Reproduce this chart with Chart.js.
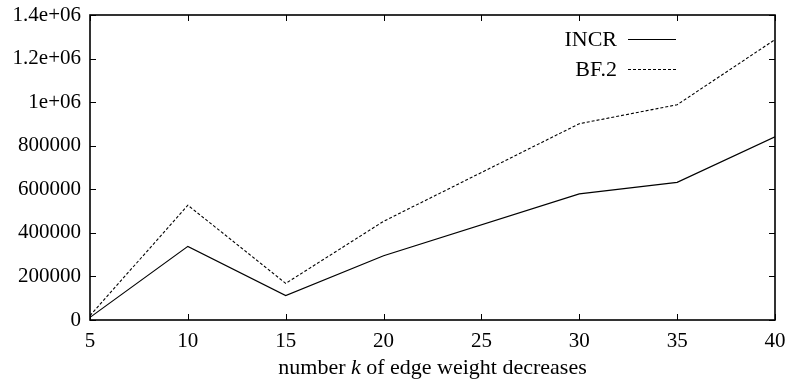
<!DOCTYPE html>
<html>
<head>
<meta charset="utf-8">
<script src="https://cdn.jsdelivr.net/npm/chart.js@4/dist/chart.umd.min.js"></script>
<style>
  html, body { margin: 0; padding: 0; background: #fff; }
  #wrap { width: 786px; height: 382px; position: relative; }
</style>
</head>
<body>
<div id="wrap"><canvas id="c" width="786" height="382"></canvas></div>
<script>
const kValues = [5, 10, 15, 20, 30, 35, 40];
const incrValues = [12000, 338000, 112000, 295000, 579000, 632000, 841000];
const bf2Values = [20000, 527000, 168000, 453000, 901000, 988000, 1287000];
const xTickValues = [5, 10, 15, 20, 25, 30, 35, 40];
const yTickValues = [0, 200000, 400000, 600000, 800000, 1000000, 1200000, 1400000];
const yTickLabels = ['0', '200000', '400000', '600000', '800000', '1e+06', '1.2e+06', '1.4e+06'];
const seriesNames = ['INCR', 'BF.2'];
const xTitleParts = [['number ', false], ['k', true], [' of edge weight decreases', false]];

const FONT = '"Liberation Serif", "Times New Roman", serif';

const gnuplotPlugin = {
  id: 'gnuplotFrame',
  afterDraw(chart) {
    const ctx = chart.ctx;
    const a = chart.chartArea;
    const xs = chart.scales.x, ys = chart.scales.y;
    ctx.save();
    ctx.strokeStyle = '#000';
    ctx.lineWidth = 1;
    const tl = 6;
    xTickValues.forEach(v => {
      const px = Math.round(xs.getPixelForValue(v)) + 0.5;
      ctx.beginPath();
      ctx.moveTo(px, a.bottom); ctx.lineTo(px, a.bottom - tl);
      ctx.moveTo(px, a.top); ctx.lineTo(px, a.top + tl);
      ctx.stroke();
    });
    yTickValues.forEach(v => {
      const py = Math.round(ys.getPixelForValue(v)) + 0.5;
      ctx.beginPath();
      ctx.moveTo(a.left, py); ctx.lineTo(a.left + tl, py);
      ctx.moveTo(a.right, py); ctx.lineTo(a.right - tl, py);
      ctx.stroke();
    });
    ctx.lineWidth = 1.6;
    ctx.strokeRect(a.left, a.top, a.right - a.left, a.bottom - a.top);

    // legend
    ctx.fillStyle = '#000';
    ctx.font = '22px ' + FONT;
    ctx.textAlign = 'right';
    ctx.textBaseline = 'middle';
    const legY = [39, 69];
    chart.data.datasets.forEach((ds, i) => {
      ctx.fillText(seriesNames[i], 617, legY[i] + 1);
      ctx.beginPath();
      ctx.lineWidth = ds.borderWidth;
      ctx.setLineDash(ds.borderDash || []);
      ctx.moveTo(628, legY[i] + 0.5);
      ctx.lineTo(676, legY[i] + 0.5);
      ctx.stroke();
      ctx.setLineDash([]);
    });

    // x title with italic k
    ctx.textAlign = 'left';
    ctx.textBaseline = 'alphabetic';
    let total = 0;
    xTitleParts.forEach(([t, it]) => {
      ctx.font = (it ? 'italic ' : '') + '22px ' + FONT;
      total += ctx.measureText(t).width;
    });
    let x = (a.left + a.right) / 2 - total / 2;
    const by = 374;
    xTitleParts.forEach(([t, it]) => {
      ctx.font = (it ? 'italic ' : '') + '22px ' + FONT;
      ctx.fillText(t, x, by);
      x += ctx.measureText(t).width;
    });
    ctx.restore();
  }
};

new Chart(document.getElementById('c'), {
  type: 'line',
  data: {
    datasets: [
      {
        label: seriesNames[0],
        data: kValues.map((k, i) => ({ x: k, y: incrValues[i] })),
        borderColor: '#000',
        borderWidth: 1.2,
        pointRadius: 0,
        tension: 0,
        fill: false
      },
      {
        label: seriesNames[1],
        data: kValues.map((k, i) => ({ x: k, y: bf2Values[i] })),
        borderColor: '#000',
        borderWidth: 1.1,
        borderDash: [3, 2],
        pointRadius: 0,
        tension: 0,
        fill: false
      }
    ]
  },
  options: {
    responsive: false,
    animation: false,
    devicePixelRatio: 1,
    layout: { padding: { left: 0, right: 11, top: 15, bottom: 0 } },
    plugins: { legend: { display: false }, tooltip: { enabled: false } },
    scales: {
      x: {
        type: 'linear',
        min: 5, max: 40,
        afterBuildTicks: s => { s.ticks = xTickValues.map(v => ({ value: v })); },
        afterFit: s => { s.height = 62; s.paddingLeft = 0; s.paddingRight = 0; },
        grid: { display: false, drawTicks: false },
        border: { display: false },
        ticks: {
          color: '#000',
          font: { family: FONT, size: 21 },
          padding: 9,
          maxRotation: 0,
          callback: v => String(v)
        }
      },
      y: {
        type: 'linear',
        min: 0, max: 1400000,
        afterBuildTicks: s => { s.ticks = yTickValues.map(v => ({ value: v })); },
        afterFit: s => { s.width = 90; s.paddingTop = 0; s.paddingBottom = 0; },
        grid: { display: false, drawTicks: false },
        border: { display: false },
        ticks: {
          color: '#000',
          font: { family: FONT, size: 21 },
          padding: 9,
          callback: v => { const i = yTickValues.indexOf(v); return i >= 0 ? yTickLabels[i] : ''; }
        }
      }
    }
  },
  plugins: [gnuplotPlugin]
});
</script>
</body>
</html>
